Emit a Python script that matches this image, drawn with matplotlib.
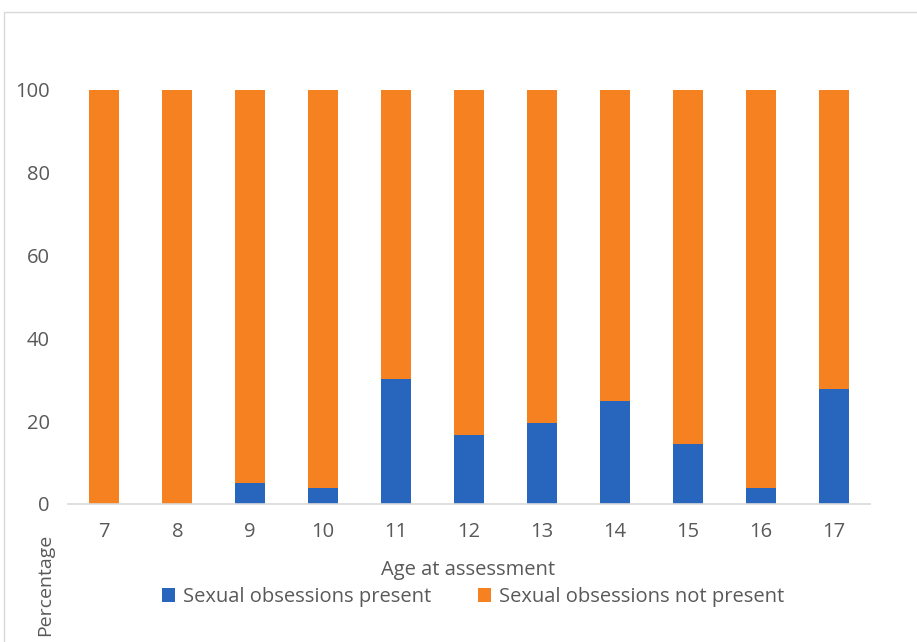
import numpy as np
import matplotlib.pyplot as plt
from matplotlib.patches import Rectangle

ages = ['7', '8', '9', '10', '11', '12', '13', '14', '15', '16', '17']
present = [0, 0, 5.1, 3.9, 30.3, 16.6, 19.5, 24.9, 14.6, 3.9, 27.8]
not_present = [100 - v for v in present]

blue = '#2866BD'
orange = '#F58121'
grey_text = '#595959'

plt.rcParams['font.family'] = ['Open Sans', 'DejaVu Sans']
fs = 14.5

fig = plt.figure(figsize=(9.17, 6.42), dpi=100)
ax = fig.add_axes([0.074, 0.215, 0.875, 0.774])

x = np.arange(len(ages))
ax.bar(x, present, width=0.41, color=blue, label='Sexual obsessions present')
ax.bar(x, not_present, width=0.41, bottom=present, color=orange,
       label='Sexual obsessions not present')

ax.set_xlim(-0.5, len(ages) - 0.5)
ax.set_ylim(0, 120)
ax.set_yticks([0, 20, 40, 60, 80, 100])
ax.set_xticks(x)
ax.set_xticklabels(ages)
ax.tick_params(length=0, labelsize=fs, colors=grey_text)
ax.tick_params(axis='x', pad=13)
ax.tick_params(axis='y', pad=13)
for s in ['top', 'right', 'left']:
    ax.spines[s].set_visible(False)
ax.spines['bottom'].set_color('#D9D9D9')
ax.spines['bottom'].set_linewidth(1.2)

fig.text(0.51, 1 - 570 / 642, 'Age at assessment', ha='center', va='center',
         fontsize=fs, color=grey_text)
fig.text(0.049, 1 - 585 / 642, 'Percentage', rotation=90, ha='center',
         va='center', fontsize=14, color=grey_text)

fig.legend(loc='center', bbox_to_anchor=(0.516, 1 - 597 / 642), ncol=2,
           frameon=False, fontsize=fs, handlelength=0.65, handleheight=0.65,
           handletextpad=0.4, columnspacing=2.3, labelcolor=grey_text)

# light chart border
fig.patches.append(Rectangle((4 / 917, -0.01), 1.0, 1 - 12.5 / 642 + 0.01,
                             transform=fig.transFigure, fill=False,
                             edgecolor='#D9D9D9', linewidth=1.0))

fig.savefig('out.png', dpi=100)
